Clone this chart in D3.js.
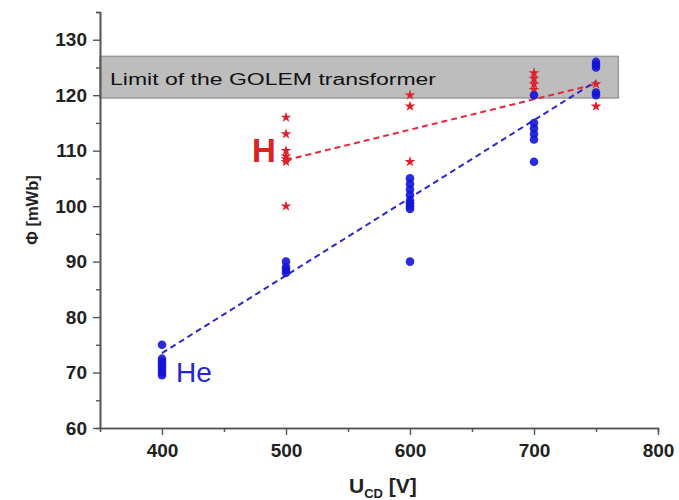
<!DOCTYPE html>
<html>
<head>
<meta charset="utf-8">
<script src="https://cdn.jsdelivr.net/npm/d3@7"></script>
<style>
  body { margin: 0; background: #fff; }
  text { font-family: "Liberation Sans", Arial, sans-serif; }
</style>
</head>
<body>
<div id="chart"></div>
<script>
// He discharges (blue circles)
var heVoltage = [400, 400, 400, 400, 400, 400, 400, 400,
  500, 500, 500, 500,
  600, 600, 600, 600, 600, 600, 600, 600, 600,
  700, 700, 700, 700, 700, 700,
  750, 750, 750, 750, 750];
var heFlux = [75, 72.5, 72, 71.5, 71, 70.5, 70, 69.5,
  90, 89, 88.5, 88,
  105, 104, 103, 102, 101, 100.5, 100, 99.5, 90,
  120, 115, 114, 113, 112, 108,
  126, 125.5, 125, 120.5, 120];

// H discharges (red stars)
var hVoltage = [500, 500, 500, 500, 500, 500, 500,
  600, 600, 600,
  700, 700, 700, 700,
  750, 750];
var hFlux = [116, 113, 110, 109, 108.5, 108, 100,
  120, 118, 108,
  124, 123, 122, 121,
  122, 118];

// linear trend lines
var heFitX = [400, 750], heFitY = [73.5, 122.5];
var hFitX = [500, 750], hFitY = [108.3, 122];

// transformer limit band
var limitLow = 119.5, limitHigh = 127, limitEnd = 768;

var xTicks = [400, 500, 600, 700, 800];
var xMinor = [450, 550, 650, 750];
var yTicks = [60, 70, 80, 90, 100, 110, 120, 130];
var yMinor = [65, 75, 85, 95, 105, 115, 125, 135];

var width = 679, height = 500;

var svg = d3.select("#chart").append("svg")
  .attr("width", width)
  .attr("height", height);

var x = d3.scaleLinear().domain([350, 800]).range([100, 658]);
var y = d3.scaleLinear().domain([60, 135]).range([428, 12]);

// grey band
svg.append("rect")
  .attr("x", x(350))
  .attr("y", y(limitHigh))
  .attr("width", x(limitEnd) - x(350))
  .attr("height", y(limitLow) - y(limitHigh))
  .attr("fill", "#bdbdbd")
  .attr("stroke", "#9a9a9a")
  .attr("stroke-width", 1.5);

svg.append("text")
  .attr("x", 110)
  .attr("y", y(limitHigh) + 29)
  .attr("font-size", 16)
  .attr("textLength", 326)
  .attr("lengthAdjust", "spacingAndGlyphs")
  .attr("fill", "#111")
  .text("Limit of  the GOLEM transformer");

// axes
var axisColor = "#555";
function styleAxis(g) {
  g.select(".domain").attr("stroke", axisColor).attr("stroke-width", 1.6);
  g.selectAll(".tick line").attr("stroke", axisColor).attr("stroke-width", 1.4);
  g.selectAll(".tick text")
    .attr("font-size", 19)
    .attr("font-weight", "bold")
    .attr("fill", "#222")
    .attr("font-family", "'Liberation Sans', Arial, sans-serif");
}

svg.append("g")
  .attr("transform", "translate(0," + y(60) + ")")
  .call(d3.axisBottom(x).tickValues(xMinor).tickSize(4).tickFormat(""))
  .call(styleAxis);

var gx = svg.append("g")
  .attr("transform", "translate(0," + y(60) + ")")
  .call(d3.axisBottom(x).tickValues(xTicks).tickSize(7).tickSizeOuter(0).tickPadding(9))
  .call(styleAxis);

svg.append("g")
  .attr("transform", "translate(" + x(350) + ",0)")
  .call(d3.axisLeft(y).tickValues(yMinor).tickSize(4).tickFormat(""))
  .call(styleAxis);

var gy = svg.append("g")
  .attr("transform", "translate(" + x(350) + ",0)")
  .call(d3.axisLeft(y).tickValues(yTicks).tickSize(7).tickSizeOuter(0).tickPadding(6))
  .call(styleAxis);

// axis titles
svg.append("text")
  .attr("transform", "translate(38,210) rotate(-90)")
  .attr("text-anchor", "middle")
  .attr("font-size", 16.5)
  .attr("font-weight", "bold")
  .attr("fill", "#222")
  .text("\u03A6 [mWb]");

var xt = svg.append("text")
  .attr("x", 349)
  .attr("y", 493)
  .attr("font-size", 21)
  .attr("font-weight", "bold")
  .attr("fill", "#222");
xt.append("tspan").text("U");
xt.append("tspan").attr("font-size", 13).attr("dy", 5).text("CD");
xt.append("tspan").attr("dy", -5).text(" [V]");

// trend lines
var line = d3.line();
svg.append("path")
  .attr("d", line(hFitX.map(function (d, i) { return [x(d), y(hFitY[i])]; })))
  .attr("fill", "none")
  .attr("stroke", "#e8283a")
  .attr("stroke-width", 2)
  .attr("stroke-dasharray", "6,4");

svg.append("path")
  .attr("d", line(heFitX.map(function (d, i) { return [x(d), y(heFitY[i])]; })))
  .attr("fill", "none")
  .attr("stroke", "#2a2ac8")
  .attr("stroke-width", 2)
  .attr("stroke-dasharray", "6,4");

// H stars
var star = d3.symbol().type(d3.symbolStar).size(36);
svg.selectAll(".hstar")
  .data(hFlux)
  .enter()
  .append("path")
  .attr("class", "hstar")
  .attr("d", star)
  .attr("transform", function (d, i) {
    return "translate(" + x(hVoltage[i]) + "," + y(d) + ")";
  })
  .attr("fill", "#e0202c");

// He circles
svg.selectAll(".hedot")
  .data(heFlux)
  .enter()
  .append("circle")
  .attr("class", "hedot")
  .attr("cx", function (d, i) { return x(heVoltage[i]); })
  .attr("cy", function (d) { return y(d); })
  .attr("r", 4.3)
  .attr("fill", "#1414d8")
  .attr("opacity", 0.9);

// gas labels
svg.append("text")
  .attr("x", 252)
  .attr("y", 162)
  .attr("font-size", 33)
  .attr("font-weight", "bold")
  .attr("fill", "#dd2222")
  .text("H");

svg.append("text")
  .attr("x", 176)
  .attr("y", 382)
  .attr("font-size", 28)
  .attr("fill", "#2424d0")
  .text("He");
</script>
</body>
</html>
